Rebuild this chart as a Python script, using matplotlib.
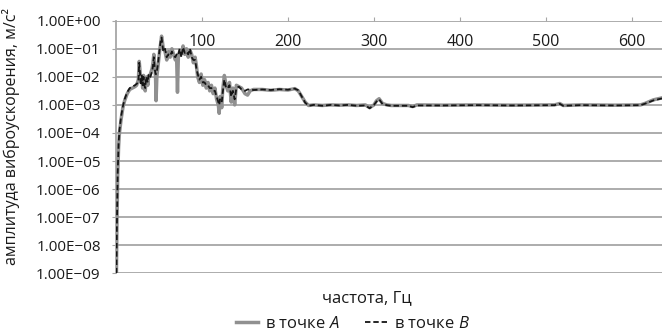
import matplotlib
matplotlib.use("Agg")
import matplotlib.pyplot as plt
from matplotlib.ticker import FixedLocator, FuncFormatter
import numpy as np

plt.rcParams['font.family'] = ['Open Sans', 'DejaVu Sans']
plt.rcParams['mathtext.fontset'] = 'custom'
plt.rcParams['mathtext.rm'] = 'Open Sans'
plt.rcParams['mathtext.it'] = 'Open Sans:italic'

# frequency, Hz (shared by both series)
freq = [0.5, 1, 2, 3, 4, 6, 8, 10, 13, 16, 19, 22, 24, 26, 27, 28, 29, 30, 31, 32,
        33, 34, 35, 36, 37, 38, 40, 42, 43, 44, 45, 46, 46.6, 47.5, 49, 50, 51, 52, 53, 54,
        55, 57, 59, 61, 63, 65, 67, 69, 70.5, 71.5, 72.5, 74, 76, 78, 80, 82, 84, 86, 88, 90,
        92, 93.5, 95, 97, 99, 101, 103, 105, 107, 109, 111, 113, 115, 117, 119, 120, 121, 123, 124, 126,
        128, 130, 132, 134, 136, 138, 140, 143, 146, 150, 153, 156, 160, 170, 180, 190, 200, 208, 212, 216,
        220, 224, 230, 240, 250, 260, 270, 280, 290, 295, 300, 303, 306, 310, 315, 320, 340, 345, 350, 380,
        420, 460, 500, 510, 516, 520, 540, 580, 610, 615, 625, 635]
# log10 of amplitude, point A (grey solid)
log_a = [-9.0, -7.5, -5.5, -4.5, -4.0, -3.5, -3.1, -2.85, -2.6, -2.45, -2.4, -2.35, -2.3, -2.1, -1.45, -1.8, -2.2, -2.0, -2.4, -1.95,
         -2.2, -2.5, -2.1, -2.0, -2.3, -2.0, -1.9, -1.7, -1.5, -1.2, -1.6, -2.0, -2.85, -2.0, -1.6, -1.3, -1.0, -0.8, -0.55, -0.75,
         -1.0, -1.1, -1.4, -1.1, -1.3, -1.0, -1.2, -1.4, -1.3, -2.55, -1.3, -1.1, -1.2, -0.9, -1.2, -1.0, -1.3, -1.05, -1.2, -1.5,
         -1.3, -1.6, -2.0, -2.2, -1.9, -2.3, -2.1, -2.4, -2.2, -2.5, -2.3, -2.6, -2.4, -2.8, -3.0, -3.3, -2.7, -3.1, -2.5, -1.95,
         -2.3, -2.5, -2.2, -2.9, -2.4, -3.0, -2.3, -2.35, -2.4, -2.6, -2.65, -2.5, -2.45, -2.45, -2.48, -2.45, -2.47, -2.42, -2.5, -2.7,
         -2.9, -3.02, -3.0, -3.02, -3.0, -3.01, -3.0, -3.02, -3.0, -3.1, -3.0, -2.85, -2.78, -2.95, -3.0, -3.02, -3.02, -3.06, -3.0, -3.01,
         -3.0, -3.01, -3.0, -3.0, -2.95, -3.02, -3.0, -3.01, -3.0, -2.95, -2.82, -2.75]
# log10 of amplitude, point B (black dashed)
log_b = [-9.0, -7.4, -5.4, -4.4, -3.9, -3.4, -3.05, -2.8, -2.55, -2.4, -2.35, -2.3, -2.25, -2.2, -1.5, -1.9, -2.3, -1.95, -2.3, -2.0,
         -2.3, -2.4, -2.0, -2.1, -2.2, -1.9, -2.0, -1.8, -1.6, -1.3, -1.7, -1.9, -1.9, -1.8, -1.5, -1.2, -0.95, -0.7, -0.6, -0.85,
         -1.1, -1.0, -1.3, -1.2, -1.25, -1.1, -1.25, -1.3, -1.2, -1.25, -1.2, -1.0, -1.3, -0.95, -1.15, -1.1, -1.2, -1.0, -1.3, -1.4,
         -1.4, -1.7, -1.9, -2.1, -2.0, -2.2, -2.2, -2.3, -2.3, -2.4, -2.4, -2.5, -2.5, -2.7, -2.9, -3.0, -2.8, -2.9, -2.6, -2.1,
         -2.4, -2.4, -2.3, -2.7, -2.5, -2.8, -2.4, -2.35, -2.45, -2.5, -2.45, -2.45, -2.47, -2.45, -2.47, -2.44, -2.46, -2.42, -2.48, -2.7,
         -2.92, -3.03, -3.0, -3.03, -3.0, -3.02, -3.0, -3.03, -3.02, -3.12, -3.0, -2.88, -2.8, -2.97, -3.01, -3.03, -3.03, -3.08, -3.02, -3.02,
         -3.01, -3.02, -3.01, -3.01, -2.96, -3.03, -3.01, -3.02, -3.01, -2.96, -2.84, -2.77]

x_ticks = [100, 200, 300, 400, 500, 600]
y_ticks = [1e-9, 1e-8, 1e-7, 1e-6, 1e-5, 1e-4, 1e-3, 1e-2, 1e-1, 1e0]

xlabel = "частота, Гц"
ylabel = "амплитуда виброускорения, м/с²"
label_a = "в точке $\\mathit{A}$"
label_b = "в точке $\\mathit{B}$"

fig = plt.figure(figsize=(6.62, 3.36), dpi=100)
ax = fig.add_axes([116 / 662, 1 - 273.3 / 336, (662 - 116) / 662, (273.3 - 20.7) / 336])

amp_a = 10.0 ** np.array(log_a)
amp_b = 10.0 ** np.array(log_b)

ax.plot(freq, amp_a, color='#909090', lw=2.5, solid_joinstyle='round', label=label_a, zorder=3)
ax.plot(freq, amp_b, color='#151515', lw=1.3, ls=(0, (3.0, 1.6)), label=label_b, zorder=4)

ax.set_yscale('log')
ax.set_ylim(1e-9, 1e0)
ax.set_xlim(0, 635)
ax.yaxis.set_major_locator(FixedLocator(y_ticks))
ax.yaxis.set_minor_locator(FixedLocator([]))


def yfmt(v, pos):
    e = int(round(np.log10(v)))
    sign = '+' if e >= 0 else '\u2212'
    return "1.00E%s%02d" % (sign, abs(e))


ax.yaxis.set_major_formatter(FuncFormatter(yfmt))
ax.set_xticks(x_ticks)
ax.set_xticklabels([str(t) for t in x_ticks])

ax.grid(axis='y', color='#a6a6a6', lw=1.3)
ax.set_axisbelow(True)
for s in ['right', 'bottom', 'top']:
    ax.spines[s].set_visible(False)
ax.spines['left'].set_color('#a6a6a6')
ax.spines['left'].set_linewidth(1.3)

ax.tick_params(axis='y', which='both', length=3, color='#a6a6a6', labelsize=11, pad=8, labelcolor='#1a1a1a')
ax.tick_params(axis='x', bottom=False, labelbottom=False, top=True, labeltop=True,
               direction='out', length=3, color='#a6a6a6', labelsize=11.5, pad=-24, labelcolor='#1a1a1a')

fig.text(11 / 662, 1 - 136.5 / 336, ylabel, rotation=90, ha='center', va='center', fontsize=11.5, color='#1a1a1a')
fig.text(367 / 662, 1 - 298 / 336, xlabel, ha='center', va='center', fontsize=12, color='#1a1a1a')

fig.legend(loc='center', bbox_to_anchor=(353 / 662, 1 - 324 / 336), ncol=2, frameon=False,
           fontsize=12, handlelength=1.3, handletextpad=0.45, columnspacing=1.5, labelcolor='#1a1a1a',
           borderpad=0, borderaxespad=0)

fig.savefig('out.png', dpi=100)
